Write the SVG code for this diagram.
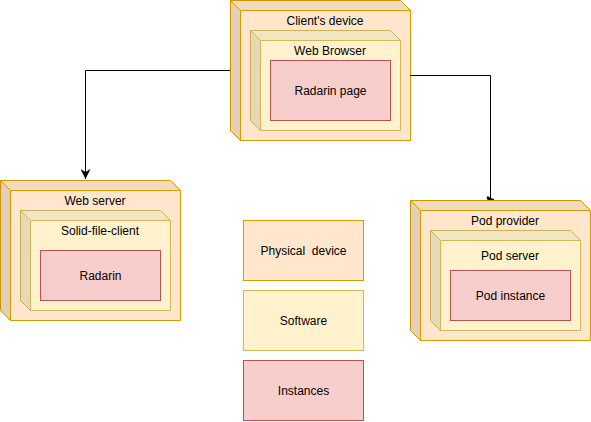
<svg xmlns="http://www.w3.org/2000/svg" width="591" height="422" viewBox="0 0 591 422">
<style>
.t{font-family:"Liberation Sans",Arial,sans-serif;font-size:12px;fill:#000;text-anchor:middle;white-space:pre}
.po{fill:#ffe6cc;stroke:#d79b00;stroke-width:1}
.so{fill:#fff2cc;stroke:#d6b656;stroke-width:1}
.in{fill:#f8cecc;stroke:#b85450;stroke-width:1}
.top{fill:#000;fill-opacity:0.05;stroke:none}
.side{fill:#000;fill-opacity:0.1;stroke:none}
.edge{fill:none;stroke-width:1}
.conn{fill:none;stroke:#000;stroke-width:1}
</style>
<defs>
<marker id="arr" viewBox="0 0 10 10" refX="10" refY="5" markerWidth="10" markerHeight="10" markerUnits="userSpaceOnUse" orient="auto">
<path d="M0,0 L10,5 L0,10 L3,5 Z" fill="#000"/>
</marker>
</defs>
<rect width="591" height="422" fill="#fff"/>

<g id="client-device">
<path class="po" d="M230.5,0.5 H400.5 L410.5,10.5 V140.5 H240.5 L230.5,130.5 Z"/>
<path class="top" d="M230.5,0.5 H400.5 L410.5,10.5 H240.5 Z"/>
<path class="side" d="M230.5,0.5 L240.5,10.5 V140.5 L230.5,130.5 Z"/>
<path class="edge" stroke="#d79b00" d="M230.5,0.5 L240.5,10.5 H410.5 M240.5,10.5 V140.5"/>
<text class="t" x="325" y="25">Client's device</text>
</g>
<g id="web-browser">
<path class="so" d="M250.5,30.5 H390.5 L400.5,40.5 V130.5 H260.5 L250.5,120.5 Z"/>
<path class="top" d="M250.5,30.5 H390.5 L400.5,40.5 H260.5 Z"/>
<path class="side" d="M250.5,30.5 L260.5,40.5 V130.5 L250.5,120.5 Z"/>
<path class="edge" stroke="#d6b656" d="M250.5,30.5 L260.5,40.5 H400.5 M260.5,40.5 V130.5"/>
<text class="t" x="330" y="55">Web Browser</text>
</g>
<g id="radarin-page">
<rect class="in" x="270.5" y="60.5" width="120" height="60"/>
<text class="t" x="330.5" y="95">Radarin page</text>
</g>

<g id="web-server">
<path class="po" d="M0.5,180.5 H170.5 L180.5,190.5 V320.5 H10.5 L0.5,310.5 Z"/>
<path class="top" d="M0.5,180.5 H170.5 L180.5,190.5 H10.5 Z"/>
<path class="side" d="M0.5,180.5 L10.5,190.5 V320.5 L0.5,310.5 Z"/>
<path class="edge" stroke="#d79b00" d="M0.5,180.5 L10.5,190.5 H180.5 M10.5,190.5 V320.5"/>
<text class="t" x="95" y="205">Web server</text>
</g>
<g id="solid-file-client">
<path class="so" d="M20.5,210.5 H160.5 L170.5,220.5 V310.5 H30.5 L20.5,300.5 Z"/>
<path class="top" d="M20.5,210.5 H160.5 L170.5,220.5 H30.5 Z"/>
<path class="side" d="M20.5,210.5 L30.5,220.5 V310.5 L20.5,300.5 Z"/>
<path class="edge" stroke="#d6b656" d="M20.5,210.5 L30.5,220.5 H170.5 M30.5,220.5 V310.5"/>
<text class="t" x="100" y="235">Solid-file-client</text>
</g>
<g id="radarin">
<rect class="in" x="40.5" y="250.5" width="120" height="50"/>
<text class="t" x="100.5" y="279.5">Radarin</text>
</g>

<g id="pod-provider">
<path class="po" d="M410.5,200.5 H580.5 L590.5,210.5 V340.5 H420.5 L410.5,330.5 Z"/>
<path class="top" d="M410.5,200.5 H580.5 L590.5,210.5 H420.5 Z"/>
<path class="side" d="M410.5,200.5 L420.5,210.5 V340.5 L410.5,330.5 Z"/>
<path class="edge" stroke="#d79b00" d="M410.5,200.5 L420.5,210.5 H590.5 M420.5,210.5 V340.5"/>
<text class="t" x="505" y="225">Pod provider</text>
</g>
<g id="pod-server">
<path class="so" d="M430.5,230.5 H570.5 L580.5,240.5 V330.5 H440.5 L430.5,320.5 Z"/>
<path class="top" d="M430.5,230.5 H570.5 L580.5,240.5 H440.5 Z"/>
<path class="side" d="M430.5,230.5 L440.5,240.5 V330.5 L430.5,320.5 Z"/>
<path class="edge" stroke="#d6b656" d="M430.5,230.5 L440.5,240.5 H580.5 M440.5,240.5 V330.5"/>
<text class="t" x="510" y="260">Pod server</text>
</g>
<g id="pod-instance">
<rect class="in" x="450.5" y="270.5" width="120" height="50"/>
<text class="t" x="510.5" y="300">Pod instance</text>
</g>

<g id="legend-physical">
<rect class="po" x="243.5" y="220.5" width="120" height="60"/>
<text class="t" x="303.5" y="255">Physical  device</text>
</g>
<g id="legend-software">
<rect class="so" x="243.5" y="290.5" width="120" height="60"/>
<text class="t" x="303.5" y="325">Software</text>
</g>
<g id="legend-instances">
<rect class="in" x="243.5" y="360.5" width="120" height="60"/>
<text class="t" x="303.5" y="395">Instances</text>
</g>

<g id="connectors">
<path class="conn" d="M230,70.5 H85.5 V179" marker-end="url(#arr)"/>
<path class="conn" d="M410,75.5 H490.5 V199"/>
<path d="M486.5,196.5 L488.5,196.5 L490.5,198 L494,199 L494,200 L487.5,200 Z" fill="#000"/>
</g>
</svg>
